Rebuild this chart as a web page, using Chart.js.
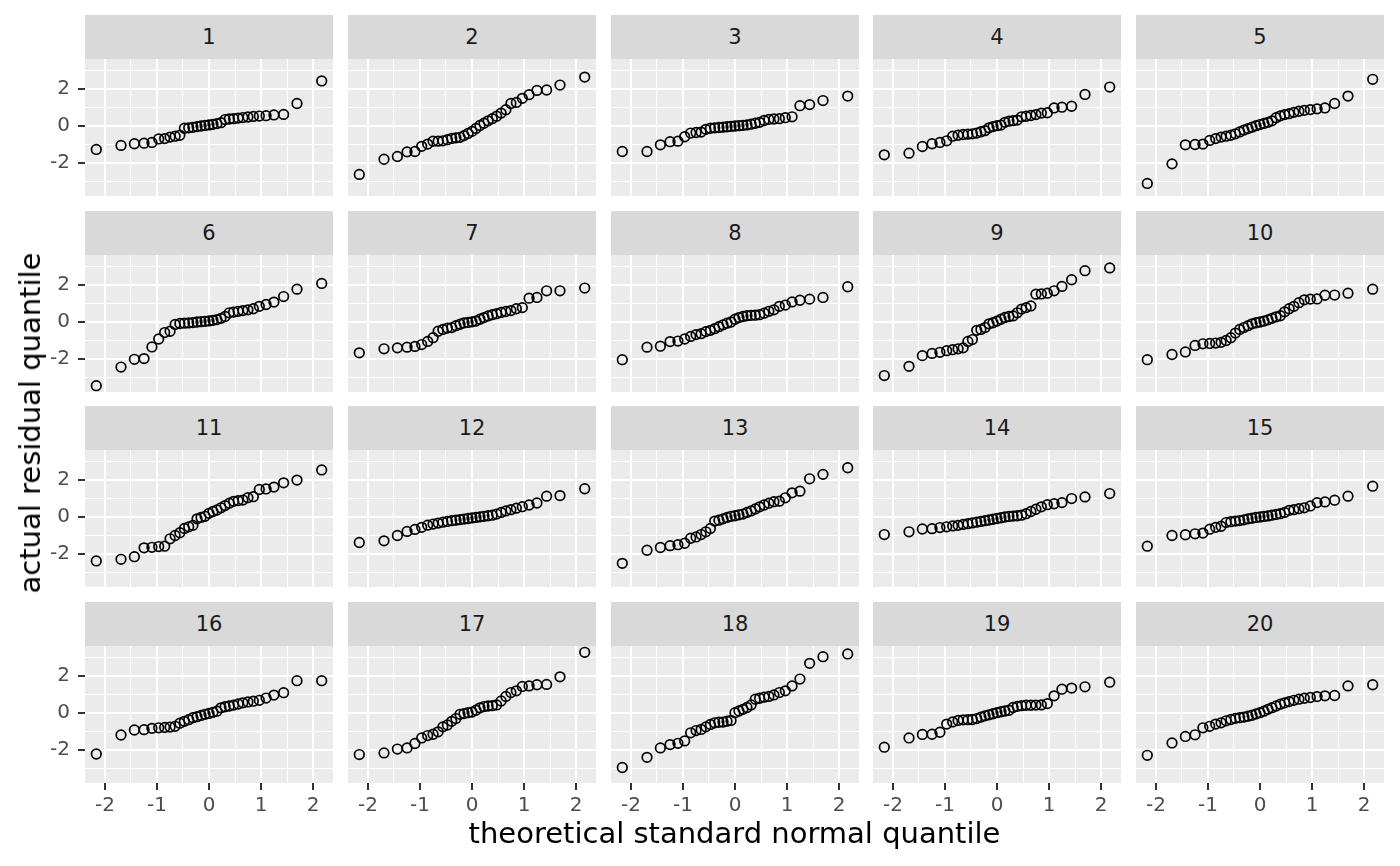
<!DOCTYPE html>
<html>
<head>
<meta charset="utf-8">
<script src="https://cdn.jsdelivr.net/npm/chart.js@4"></script>
<style>
  body { margin: 0; background: #fff; }
  #wrap { position: relative; width: 1400px; height: 866px; font-family: "DejaVu Sans", sans-serif; }
  canvas { position: absolute; }
  .strip { position: absolute; background: #D9D9D9; color: #1A1A1A; font-size: 21px;
           display: flex; align-items: center; justify-content: center; }
  .title { position: absolute; font-size: 29px; color: #000; white-space: nowrap; }
</style>
</head>
<body>
<div id="wrap"></div>
<script>
// theoretical normal quantiles for 33 points
const theoQ = [-2.166, -1.691, -1.434, -1.248, -1.097, -0.967, -0.852, -0.748, -0.651, -0.560, -0.473,
  -0.390, -0.309, -0.230, -0.153, -0.076, 0, 0.076, 0.153, 0.230, 0.309, 0.390,
  0.473, 0.560, 0.651, 0.748, 0.852, 0.967, 1.097, 1.248, 1.434, 1.691, 2.166];

const panelLabels = ["1", "2", "3", "4", "5", "6", "7", "8", "9", "10",
  "11", "12", "13", "14", "15", "16", "17", "18", "19", "20"];

// sorted residuals per panel
const res1 = [-1.27, -1.05, -0.96, -0.93, -0.89, -0.70, -0.68, -0.60, -0.55, -0.50, -0.12, -0.10, -0.07, -0.03, 0.00, 0.03, 0.06, 0.09, 0.13, 0.18, 0.35, 0.38, 0.40, 0.43, 0.46, 0.49, 0.52, 0.54, 0.56, 0.60, 0.63, 1.22, 2.44];
const res2 = [-2.62, -1.80, -1.65, -1.40, -1.38, -1.10, -0.98, -0.82, -0.82, -0.80, -0.74, -0.67, -0.64, -0.61, -0.52, -0.40, -0.29, -0.13, 0.03, 0.15, 0.28, 0.40, 0.53, 0.70, 0.88, 1.22, 1.28, 1.50, 1.70, 1.93, 1.95, 2.22, 2.65];
const res3 = [-1.38, -1.38, -1.02, -0.85, -0.82, -0.58, -0.38, -0.35, -0.33, -0.18, -0.12, -0.10, -0.08, -0.06, -0.04, -0.02, 0.00, 0.02, 0.04, 0.06, 0.10, 0.15, 0.20, 0.30, 0.36, 0.38, 0.40, 0.45, 0.50, 1.10, 1.16, 1.38, 1.62];
const res4 = [-1.56, -1.47, -1.11, -0.96, -0.89, -0.80, -0.55, -0.50, -0.46, -0.44, -0.42, -0.38, -0.31, -0.25, -0.10, -0.03, 0.02, 0.05, 0.20, 0.26, 0.29, 0.32, 0.50, 0.53, 0.57, 0.62, 0.70, 0.72, 0.98, 1.02, 1.07, 1.71, 2.11];
const res5 = [-3.11, -2.05, -1.02, -1.00, -0.98, -0.78, -0.68, -0.60, -0.55, -0.50, -0.42, -0.32, -0.22, -0.14, -0.06, 0.02, 0.08, 0.14, 0.20, 0.28, 0.45, 0.55, 0.62, 0.67, 0.74, 0.80, 0.85, 0.89, 0.93, 0.98, 1.22, 1.62, 2.53];
const res6 = [-3.45, -2.44, -2.02, -1.98, -1.35, -0.92, -0.57, -0.50, -0.13, -0.08, -0.06, -0.05, -0.03, 0.00, 0.02, 0.04, 0.06, 0.09, 0.13, 0.20, 0.30, 0.50, 0.54, 0.58, 0.62, 0.66, 0.72, 0.85, 0.95, 1.08, 1.38, 1.78, 2.09];
const res7 = [-1.67, -1.45, -1.40, -1.36, -1.32, -1.22, -1.05, -0.85, -0.50, -0.40, -0.33, -0.30, -0.20, -0.12, -0.05, -0.02, 0.01, 0.05, 0.15, 0.24, 0.33, 0.40, 0.45, 0.52, 0.57, 0.62, 0.72, 0.78, 1.29, 1.33, 1.69, 1.69, 1.84];
const res8 = [-2.04, -1.36, -1.31, -1.06, -1.03, -0.92, -0.78, -0.68, -0.63, -0.52, -0.45, -0.36, -0.25, -0.15, -0.06, 0.00, 0.15, 0.24, 0.30, 0.34, 0.36, 0.37, 0.40, 0.48, 0.58, 0.66, 0.85, 0.92, 1.09, 1.18, 1.24, 1.33, 1.91];
const res9 = [-2.90, -2.40, -1.82, -1.70, -1.64, -1.55, -1.50, -1.45, -1.40, -1.05, -0.95, -0.45, -0.40, -0.30, -0.10, -0.04, 0.05, 0.15, 0.25, 0.30, 0.33, 0.50, 0.70, 0.78, 0.87, 1.51, 1.52, 1.56, 1.69, 1.93, 2.29, 2.78, 2.93];
const res10 = [-2.04, -1.76, -1.62, -1.27, -1.18, -1.16, -1.14, -1.10, -1.00, -0.85, -0.60, -0.40, -0.30, -0.20, -0.10, -0.04, 0.00, 0.05, 0.12, 0.20, 0.28, 0.34, 0.55, 0.72, 0.85, 1.05, 1.20, 1.24, 1.25, 1.45, 1.46, 1.56, 1.78];
const res11 = [-2.38, -2.29, -2.15, -1.67, -1.64, -1.60, -1.58, -1.18, -1.00, -0.85, -0.62, -0.53, -0.45, -0.10, -0.02, 0.04, 0.20, 0.30, 0.38, 0.50, 0.62, 0.75, 0.85, 0.89, 0.92, 1.05, 1.10, 1.49, 1.52, 1.62, 1.85, 2.00, 2.55];
const res12 = [-1.38, -1.29, -1.00, -0.78, -0.67, -0.56, -0.44, -0.38, -0.33, -0.28, -0.24, -0.20, -0.17, -0.14, -0.11, -0.08, -0.05, -0.02, 0.01, 0.04, 0.07, 0.10, 0.16, 0.25, 0.33, 0.40, 0.48, 0.56, 0.65, 0.76, 1.13, 1.16, 1.53];
const res13 = [-2.51, -1.80, -1.65, -1.55, -1.50, -1.42, -1.15, -1.08, -0.95, -0.80, -0.62, -0.22, -0.17, -0.10, -0.02, 0.04, 0.07, 0.12, 0.16, 0.25, 0.33, 0.44, 0.55, 0.65, 0.75, 0.83, 0.86, 1.04, 1.31, 1.40, 2.07, 2.31, 2.67];
const res14 = [-0.95, -0.80, -0.65, -0.63, -0.57, -0.53, -0.48, -0.45, -0.40, -0.36, -0.32, -0.28, -0.24, -0.20, -0.16, -0.12, -0.08, -0.04, 0.00, 0.03, 0.05, 0.07, 0.10, 0.18, 0.30, 0.42, 0.55, 0.67, 0.72, 0.78, 1.00, 1.09, 1.27];
const res15 = [-1.58, -1.00, -0.96, -0.91, -0.87, -0.66, -0.56, -0.50, -0.30, -0.25, -0.22, -0.19, -0.15, -0.10, -0.06, -0.02, 0.00, 0.03, 0.06, 0.10, 0.14, 0.18, 0.25, 0.36, 0.40, 0.45, 0.50, 0.60, 0.78, 0.82, 0.91, 1.13, 1.67];
const res16 = [-2.22, -1.19, -0.92, -0.90, -0.83, -0.80, -0.78, -0.76, -0.72, -0.55, -0.45, -0.36, -0.25, -0.20, -0.13, -0.07, -0.02, 0.04, 0.10, 0.28, 0.34, 0.38, 0.43, 0.49, 0.55, 0.60, 0.64, 0.69, 0.81, 0.97, 1.10, 1.75, 1.75];
const res17 = [-2.25, -2.16, -1.95, -1.89, -1.65, -1.35, -1.22, -1.15, -1.02, -0.75, -0.65, -0.45, -0.30, -0.07, -0.03, 0.02, 0.05, 0.15, 0.28, 0.35, 0.38, 0.40, 0.44, 0.65, 0.90, 1.11, 1.20, 1.44, 1.47, 1.53, 1.55, 1.96, 3.29];
const res18 = [-2.95, -2.40, -1.89, -1.71, -1.64, -1.51, -1.07, -0.95, -0.89, -0.75, -0.62, -0.53, -0.50, -0.49, -0.44, -0.40, 0.02, 0.11, 0.20, 0.30, 0.44, 0.75, 0.80, 0.86, 0.90, 0.98, 1.11, 1.20, 1.47, 1.84, 2.69, 3.05, 3.20];
const res19 = [-1.85, -1.35, -1.16, -1.15, -1.04, -0.60, -0.48, -0.40, -0.37, -0.36, -0.35, -0.30, -0.22, -0.15, -0.10, -0.04, 0.02, 0.07, 0.11, 0.15, 0.30, 0.36, 0.40, 0.42, 0.42, 0.43, 0.44, 0.51, 0.93, 1.29, 1.35, 1.42, 1.67];
const res20 = [-2.29, -1.62, -1.27, -1.18, -0.80, -0.72, -0.60, -0.53, -0.42, -0.35, -0.29, -0.25, -0.22, -0.17, -0.12, -0.05, 0.02, 0.10, 0.20, 0.29, 0.38, 0.48, 0.55, 0.62, 0.69, 0.75, 0.80, 0.84, 0.89, 0.93, 0.95, 1.47, 1.53];

const residuals = [res1, res2, res3, res4, res5, res6, res7, res8, res9, res10,
  res11, res12, res13, res14, res15, res16, res17, res18, res19, res20];

const xTicks = [-2, -1.5, -1, -0.5, 0, 0.5, 1, 1.5, 2];
const yTicks = [-3, -2, -1, 0, 1, 2, 3];
const xLabels = ["-2", "-1", "0", "1", "2"];
const yLabels = ["-2", "0", "2"];
const xRange = [-2.383, 2.383];
const yRange = [-3.79, 3.63];

// layout of the facet grid (px)
const colLeft = [85, 348, 611, 873, 1136];
const stripTop = [15, 211, 406, 602];
const panelW = 248, stripH = 44, plotH = 137;
const yAxisW = 85, xAxisH = 40;

const wrap = document.getElementById("wrap");

const panelBg = {
  id: "panelBg",
  beforeDraw(chart) {
    const { ctx, chartArea: a } = chart;
    ctx.save();
    ctx.fillStyle = "#EBEBEB";
    ctx.fillRect(a.left, a.top, a.width, a.height);
    ctx.restore();
  }
};

function fixedSize(size, vertical) {
  return function (scale) {
    if (vertical) scale.width = size; else scale.height = size;
    scale.paddingLeft = 0; scale.paddingRight = 0;
    scale.paddingTop = 0; scale.paddingBottom = 0;
  };
}

const isMajorX = v => xLabels.includes(String(v));
const isMajorY = v => yLabels.includes(String(v));

panelLabels.forEach(function (lab, i) {
  const row = Math.floor(i / 5), col = i % 5;
  const showY = col === 0, showX = row === 3;
  const plotTop = stripTop[row] + stripH;

  const strip = document.createElement("div");
  strip.className = "strip";
  strip.style.left = colLeft[col] + "px";
  strip.style.top = stripTop[row] + "px";
  strip.style.width = panelW + "px";
  strip.style.height = stripH + "px";
  strip.textContent = lab;
  wrap.appendChild(strip);

  const padL = showY ? yAxisW : 0, padB = showX ? xAxisH : 0;
  const cv = document.createElement("canvas");
  cv.width = panelW + padL;
  cv.height = plotH + padB;
  cv.style.left = (colLeft[col] - padL) + "px";
  cv.style.top = plotTop + "px";
  wrap.appendChild(cv);

  new Chart(cv.getContext("2d"), {
    type: "scatter",
    data: {
      datasets: [{
        data: theoQ.map((q, k) => ({ x: q, y: residuals[i][k] })),
        pointStyle: "circle",
        pointRadius: 4.8,
        pointBorderWidth: 1.7,
        borderColor: "#000",
        backgroundColor: "rgba(0,0,0,0)",
        showLine: false
      }]
    },
    options: {
      responsive: false,
      animation: false,
      events: [],
      layout: { padding: 0, autoPadding: false },
      plugins: { legend: { display: false }, tooltip: { enabled: false } },
      scales: {
        x: {
          type: "linear",
          min: xRange[0], max: xRange[1],
          afterBuildTicks: s => { s.ticks = xTicks.map(v => ({ value: v })); },
          afterFit: fixedSize(padB, false),
          border: { display: false },
          grid: {
            color: "#FFFFFF",
            lineWidth: c => isMajorX(c.tick.value) ? 2 : 1,
            drawTicks: showX,
            tickLength: 7,
            tickWidth: 2,
            tickColor: c => isMajorX(c.tick.value) ? "#333333" : "rgba(0,0,0,0)"
          },
          ticks: {
            display: showX,
            autoSkip: false,
            maxRotation: 0,
            padding: 4,
            color: "#4D4D4D",
            font: { family: "DejaVu Sans", size: 20 },
            callback: v => isMajorX(v) ? String(v) : ""
          }
        },
        y: {
          type: "linear",
          min: yRange[0], max: yRange[1],
          afterBuildTicks: s => { s.ticks = yTicks.map(v => ({ value: v })); },
          afterFit: fixedSize(padL, true),
          border: { display: false },
          grid: {
            color: "#FFFFFF",
            lineWidth: c => isMajorY(c.tick.value) ? 2 : 1,
            drawTicks: showY,
            tickLength: 7,
            tickWidth: 2,
            tickColor: c => isMajorY(c.tick.value) ? "#333333" : "rgba(0,0,0,0)"
          },
          ticks: {
            display: showY,
            autoSkip: false,
            padding: 8,
            color: "#4D4D4D",
            font: { family: "DejaVu Sans", size: 20 },
            callback: v => isMajorY(v) ? String(v) : ""
          }
        }
      }
    },
    plugins: [panelBg]
  });
});

const xt = document.createElement("div");
xt.className = "title";
xt.textContent = "theoretical standard normal quantile";
xt.style.left = "734.5px";
xt.style.top = "833px";
xt.style.transform = "translate(-50%, -50%)";
wrap.appendChild(xt);

const yt = document.createElement("div");
yt.className = "title";
yt.textContent = "actual residual quantile";
yt.style.left = "30px";
yt.style.top = "423px";
yt.style.transform = "translate(-50%, -50%) rotate(-90deg)";
wrap.appendChild(yt);
</script>
</body>
</html>
